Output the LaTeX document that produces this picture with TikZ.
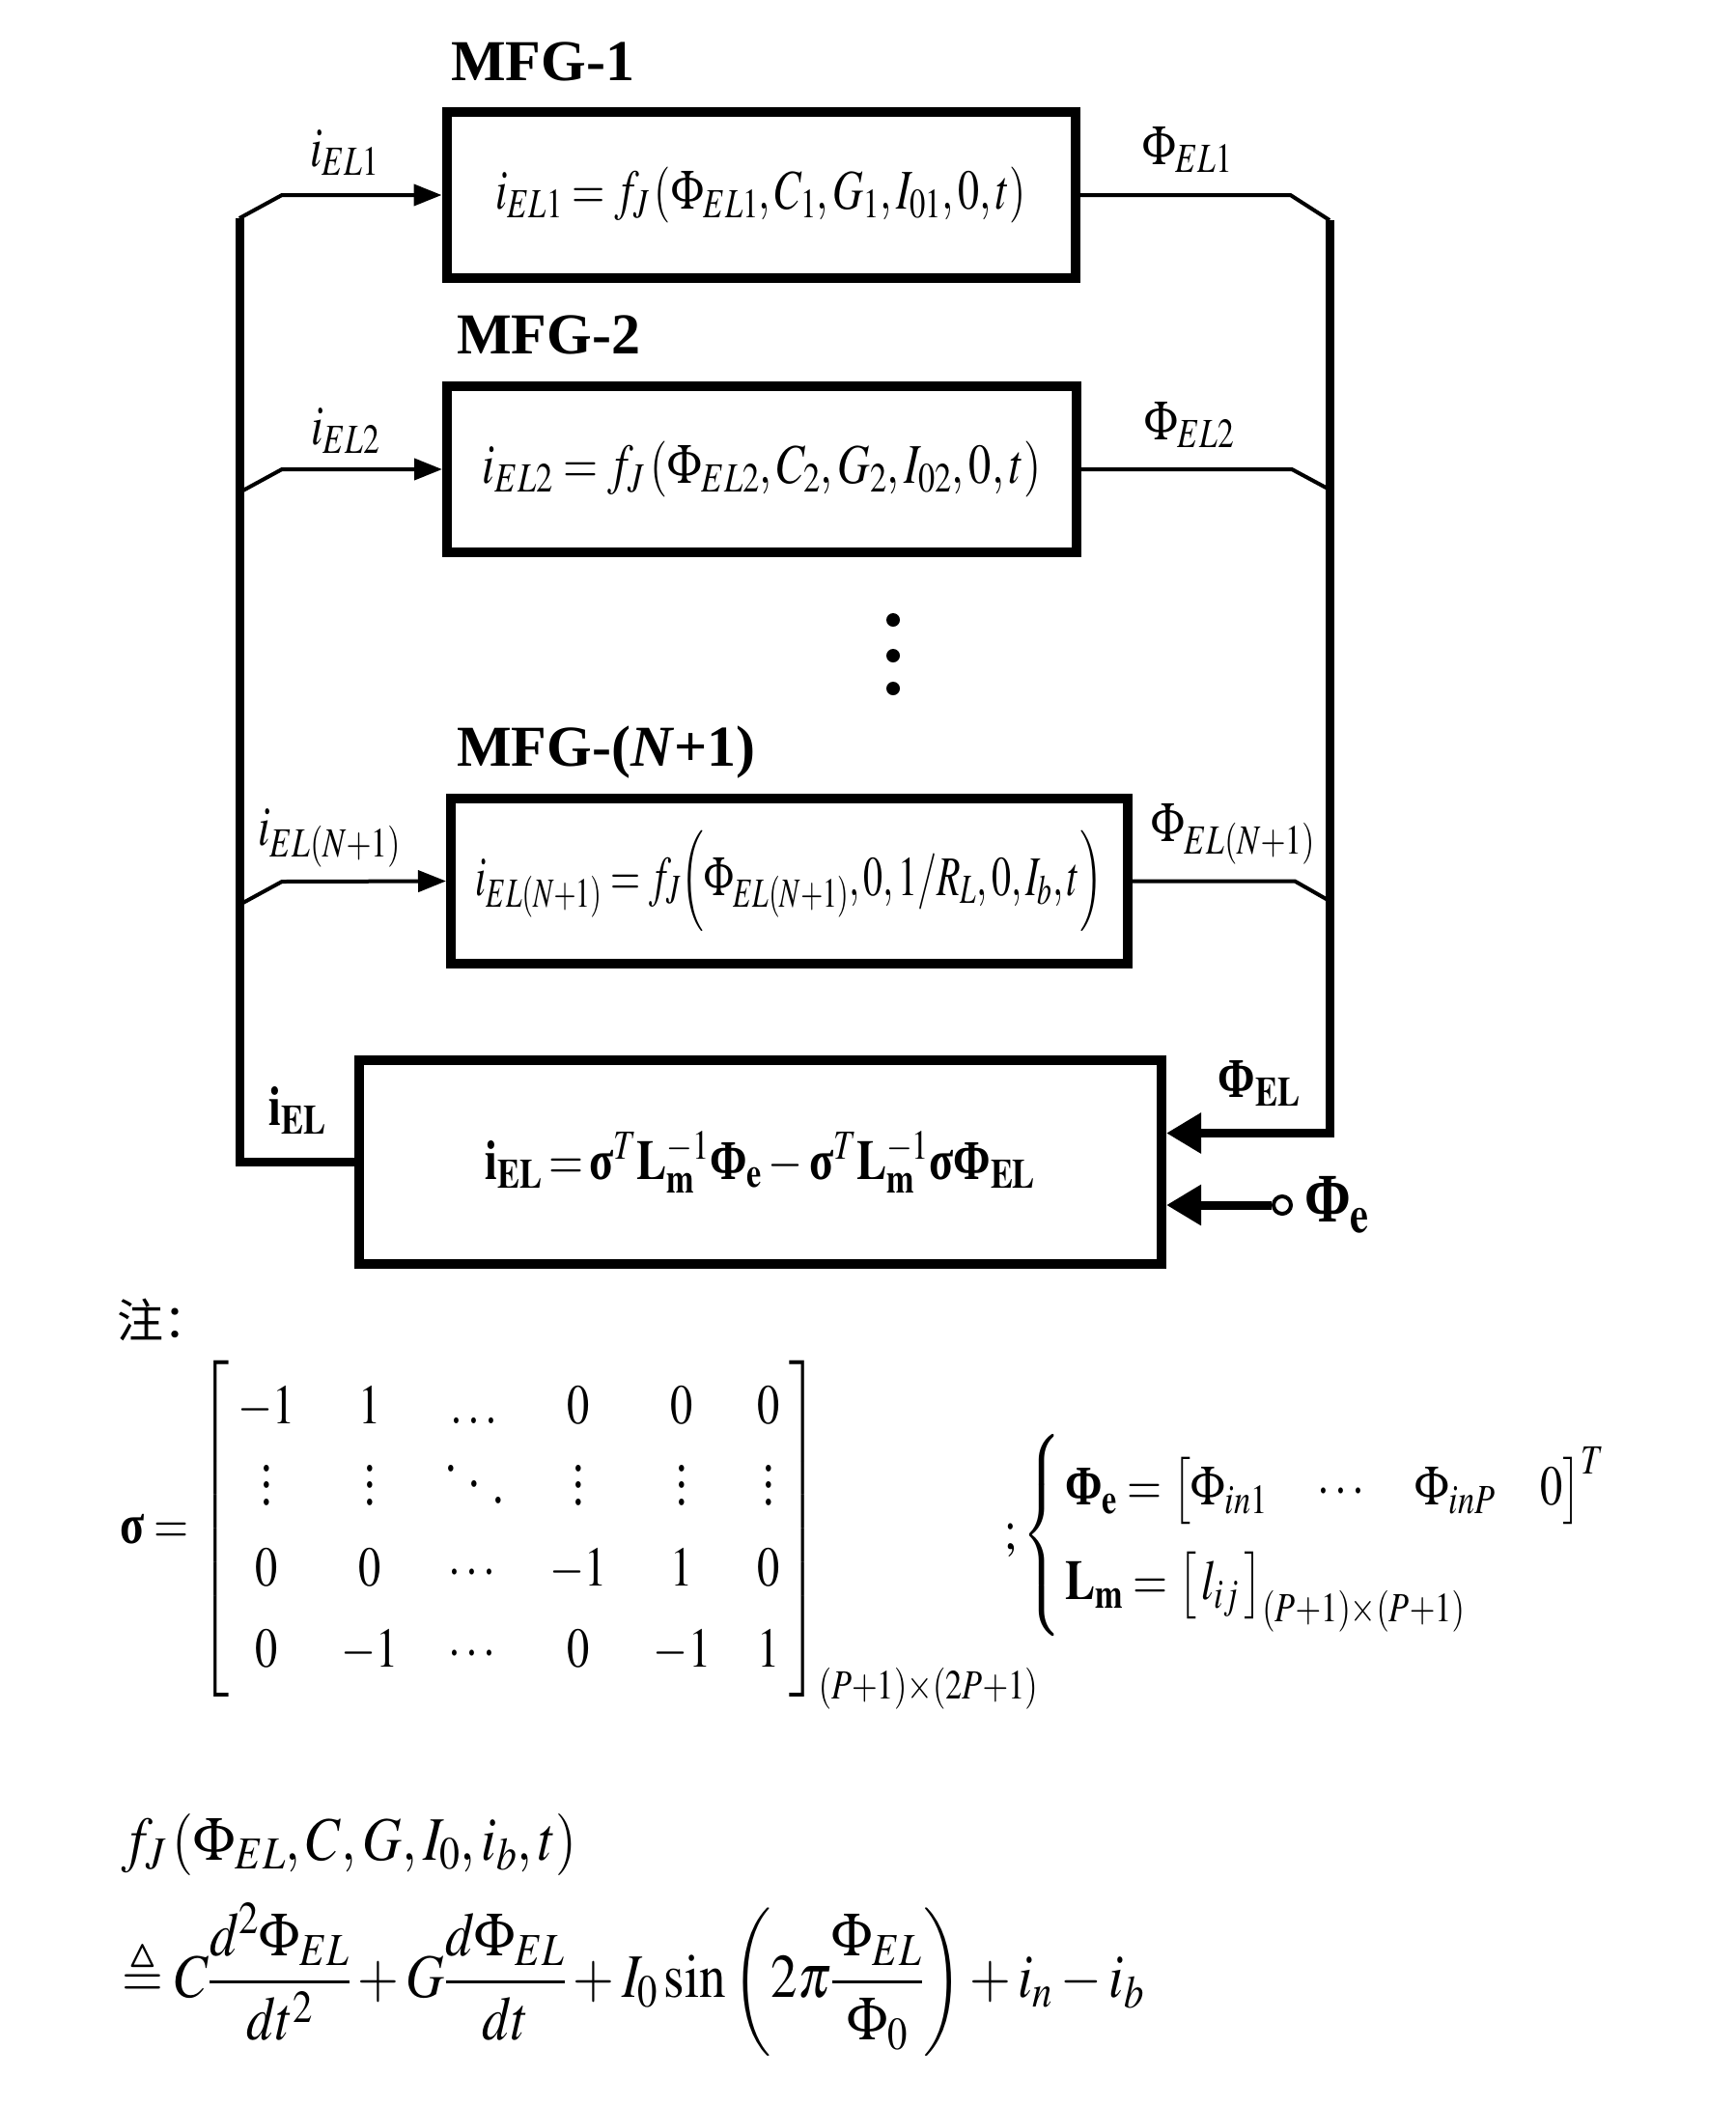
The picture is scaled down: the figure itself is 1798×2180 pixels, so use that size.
\documentclass[tikz,border=0pt]{standalone}
\usepackage{amsmath}
\usepackage{amssymb}
\usepackage{mathptmx}
\usepackage[no-math]{fontspec}
\setmainfont{Liberation Serif}
\newfontfamily\cjk{Noto Sans CJK SC}
\usetikzlibrary{arrows.meta,positioning}
\newcommand{\squeeze}[2]{\scalebox{#1}[1]{#2}}
\newcommand{\bsig}{\text{\bfseries σ}}
\newcommand{\bPhi}{\text{\bfseries Φ}}
\newcommand{\tallvdots}{\vbox{\baselineskip=0.3em\lineskiplimit=0pt\kern0.3em\hbox{.}\hbox{.}\hbox{.}}}
\newcommand{\tallddots}{\mathinner{\raisebox{0.6em}{.}\mkern5mu\raisebox{0.32em}{.}\mkern5mu\raisebox{0.04em}{.}}}

\begin{document}
\begin{tikzpicture}[x=1pt, y=-1pt, font=\fontsize{58}{70}\selectfont,
    mfgbox/.style={draw, line width=10pt, inner sep=0pt},
    branch/.style={line width=4pt},
    bus/.style={line width=9pt},
    thintip/.style={-{Triangle[length=29pt,width=22pt]}},
    thicktip/.style={-{Triangle[length=36pt,width=40pt]}},
    boxtitle/.style={font=\fontsize{60}{70}\selectfont\bfseries, inner sep=0pt}]
\useasboundingbox (0,0) rectangle (1798,2180);

% MFG blocks
\node[mfgbox, minimum width=651pt, minimum height=172pt] (m1) at (788,202)
  {\squeeze{0.76}{$i_{EL1}=f_J\left(\Phi_{EL1},C_1,G_1,I_{01},0,t\right)$}};
\node[mfgbox, minimum width=652pt, minimum height=172pt] (m2) at (789,486)
  {\squeeze{0.8}{$i_{EL2}=f_J\left(\Phi_{EL2},C_2,G_2,I_{02},0,t\right)$}};
\node[mfgbox, minimum width=701pt, minimum height=171pt] (m3) at (817.5,912.5)
  {\squeeze{0.69}{$i_{EL(N+1)}=f_J\Bigl(\Phi_{EL(N+1)},0,1/R_L,0,I_b,t\Bigr)$}};
\node[mfgbox, minimum width=831pt, minimum height=211pt] (m4) at (787.5,1203.5)
  {\squeeze{0.8}{$\mathbf{i}_{\mathbf{EL}}\mathbin{\mathbf{=}}\bsig^T\mathbf{L}_{\mathbf{m}}^{-1}\bPhi_{\mathbf{e}}-\bsig^T\mathbf{L}_{\mathbf{m}}^{-1}\bsig\bPhi_{\mathbf{EL}}$}};

\node[boxtitle, anchor=base west] (t1) at (467,83) {MFG-1};
\node[boxtitle, anchor=base west] (t2) at (473,366) {MFG-2};
\node[boxtitle, anchor=base west] (t3) at (473,793) {MFG-(\textit{N}+1)};

% dots between blocks
\foreach \y in {642,679,713}
  \fill (925,\y) circle (7pt);

% bus lines
\coordinate (lb1) at (248,226);
\coordinate (lb2) at (248,510);
\coordinate (lb3) at (248,937);
\coordinate (rb1) at (1377,228);
\coordinate (rb2) at (1377,507);
\coordinate (rb3) at (1377,933);
\coordinate (fin) at ([yshift=30pt]m4.east);

\draw[branch, thintip] (lb1) -- ++(44,-24) -- (m1.west);
\draw[branch, thintip] (lb2) -- ++(44,-24) -- (m2.west);
\draw[branch, thintip] (lb3) -- ++(44,-24) -- (m3.west);
\draw[branch] (m1.east) -- ++(218,0) -- (rb1);
\draw[branch] (m2.east) -- ++(218,0) -- (rb2);
\draw[branch] (m3.east) -- ++(168,0) -- (rb3);

\draw[bus] (lb1) -- (lb1 |- m4.west) -- (m4.west);
\draw[bus, thicktip] (rb1) -- (rb1 |- fin) -- (fin);

\node[circle, draw, line width=4pt, minimum size=18pt, inner sep=0pt] (pe) at (1328,1248) {};
\draw[bus, thicktip] (pe) -- (pe -| m4.east);

% labels
\node (li1) at (357,158) {\squeeze{0.78}{$i_{EL1}$}};
\node (lp1) at (1230,155) {\squeeze{0.78}{$\Phi_{EL1}$}};
\node (li2) at (358,446) {\squeeze{0.78}{$i_{EL2}$}};
\node (lp2) at (1232,440) {\squeeze{0.78}{$\Phi_{EL2}$}};
\node (li3) at (341,868) {\squeeze{0.78}{$i_{EL(N+1)}$}};
\node (lp3) at (1277,864) {\squeeze{0.78}{$\Phi_{EL(N+1)}$}};
\node (liel) at (308,1150) {\squeeze{0.8}{$\mathbf{i}_{\mathbf{EL}}$}};
\node (lpel) at (1304,1122) {\squeeze{0.8}{$\bPhi_{\mathbf{EL}}$}};
\node[right=12pt of pe, inner sep=0pt, font=\fontsize{72}{84}\selectfont] (lpe) {\squeeze{0.8}{$\bPhi_{\mathbf{e}}$}};

% notes
\node[anchor=west, inner sep=0pt] (note) at (121,1367) {\cjk\fontsize{48}{58}\selectfont 注：};
\node[anchor=west, inner sep=0pt] (sig) at (124,1590)
  {\squeeze{0.8}{\setlength{\arraycolsep}{30pt}\renewcommand{\arraystretch}{1.2}%
  $\bsig=\left[\begin{array}{@{\hspace{12pt}}cccccc@{\hspace{12pt}}}
    -1 & 1 & \ldots & 0 & 0 & 0\\
    \tallvdots & \tallvdots & \tallddots & \tallvdots & \tallvdots & \tallvdots\\
    0 & 0 & \cdots & -1 & 1 & 0\\
    0 & -1 & \cdots & 0 & -1 & 1
  \end{array}\right]_{(P+1)\times(2P+1)}$}};
\node[anchor=west, inner sep=0pt] (sys) at (1040,1590)
  {\squeeze{0.8}{\renewcommand{\arraystretch}{1.4}%
  $;\left\{\begin{array}{l}
    \bPhi_{\mathbf{e}}=\bigl[\Phi_{in1}\quad\cdots\quad\Phi_{inP}\quad 0\bigr]^T\\
    \mathbf{L}_{\mathbf{m}}=\bigl[\,l_{ij}\,\bigr]_{(P+1)\times(P+1)}
  \end{array}\right.$}};
\node[anchor=west, inner sep=0pt, font=\fontsize{64}{76}\selectfont] (fj) at (126,1910)
  {\squeeze{0.88}{$f_J\left(\Phi_{EL},C,G,I_0,i_b,t\right)$}};
\node[anchor=west, inner sep=0pt, font=\fontsize{64}{76}\selectfont] (fdef) at (126,2050)
  {\squeeze{0.86}{$\triangleq C\dfrac{d^2\Phi_{EL}}{dt^2}+G\dfrac{d\Phi_{EL}}{dt}+I_0\sin\left(2\pi\dfrac{\Phi_{EL}}{\Phi_0}\right)+i_n-i_b$}};
\end{tikzpicture}
\end{document}
